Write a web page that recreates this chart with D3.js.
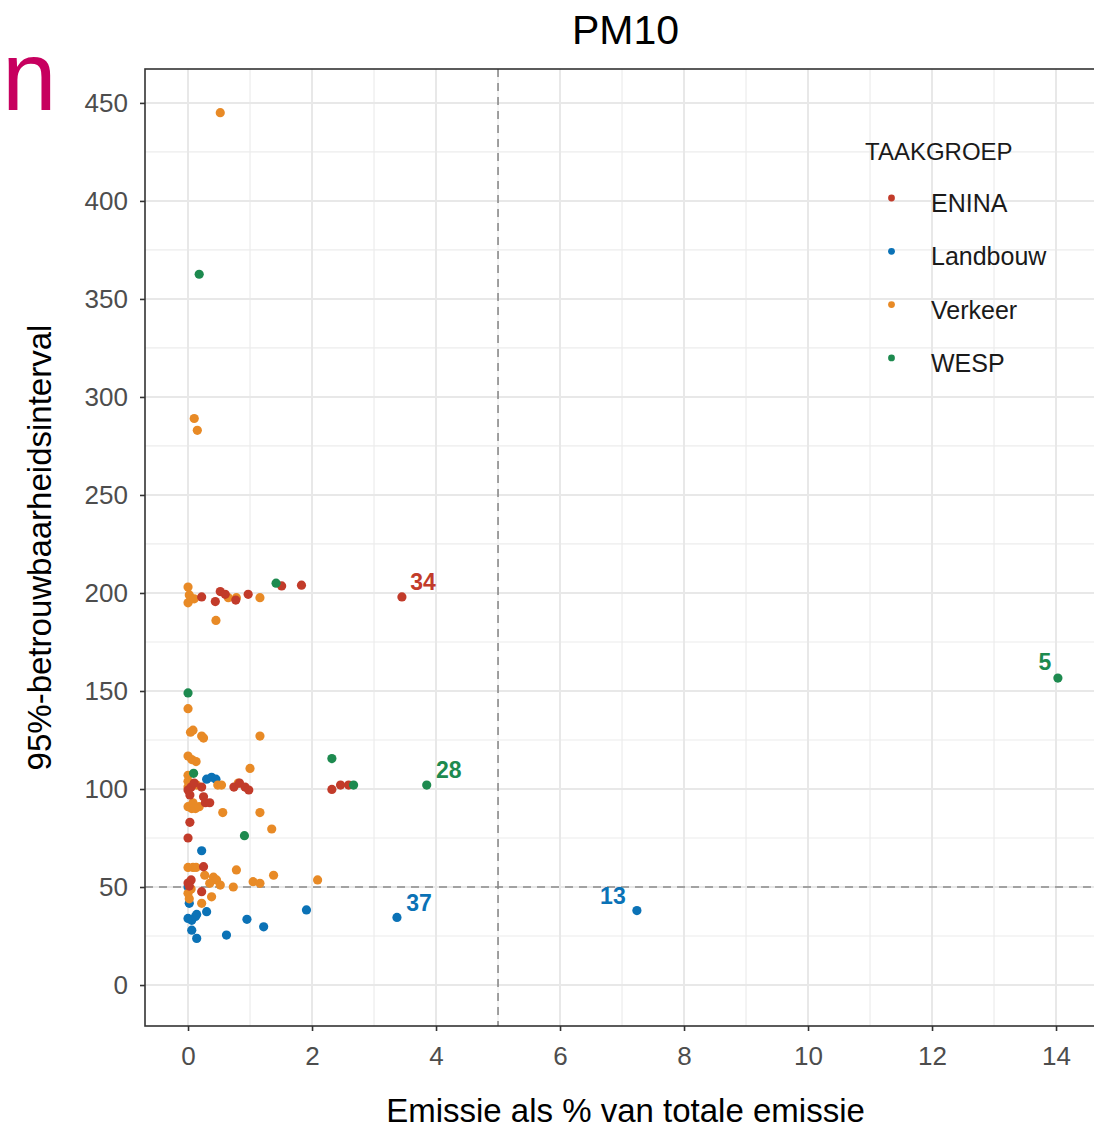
<!DOCTYPE html>
<html>
<head>
<meta charset="utf-8">
<script src="https://cdn.jsdelivr.net/npm/d3@7"></script>
<style>
  html, body { margin: 0; padding: 0; background: #fff; }
  svg { display: block; font-family: 'Liberation Sans', Arial, sans-serif; }
</style>
</head>
<body>
<div id="chart"></div>
<script>
// PM10 scatter: emission share vs 95% confidence interval

const groups = ['ENINA', 'Landbouw', 'Verkeer', 'WESP'];
const groupColors = ['#c23b2a', '#0b72b6', '#e88a26', '#1d8a4f'];

const eninaX = [0.22, 0.44, 0.52, 0.6, 0.77, 0.97, 1.51, 1.83, 3.45, 0, 0.05, 0.1, 0.03, 0.25, 0.28, 0.22, 0.35, 0.74, 0.83, 0.92, 0.98, 2.32, 2.46, 2.59, 0.03, 0, 0.25, 0, 0.05, 0.02, 0.22];
const eninaY = [198, 195.6, 200.7, 199.3, 196.4, 199.3, 203.6, 204, 198, 99.5, 101, 103, 97, 96, 93, 101, 93, 101, 103, 101, 99.5, 99.8, 102, 102, 83, 75, 60.4, 52, 53.6, 50.5, 47.6];

const landbouwX = [0.3, 0.38, 0.45, 0.22, 0, 0.02, 0, 0.06, 0.12, 0.14, 0.3, 0.06, 0.14, 0.62, 0.95, 1.22, 1.91, 3.37, 7.24];
const landbouwY = [105, 106, 105, 68.5, 50, 41.7, 34, 33, 35, 36, 37.4, 28, 23.8, 25.5, 33.5, 29.7, 38.3, 34.5, 38];

const verkeerX = [0.52, 0.1, 0.15, 0, 0.02, 0, 0.06, 0.1, 0.65, 0.78, 1.16, 0.45, 0, 0.04, 0.08, 0.22, 0.25, 1.16, 0, 0.06, 0.13, 1.0, 0, 0, 0, 0.14, 0.48, 0.54, 0.81, 0, 0.06, 0.12, 0.18, 0.08, 0.56, 1.16, 1.35, 0, 0.08, 0.13, 0.27, 0.78, 0.41, 0.46, 0.35, 0.73, 0.52, 1.05, 1.16, 1.38, 2.09, 0, 0.05, 0.22, 0.38, 0.02];
const verkeerY = [445, 289, 283, 203, 199, 195, 197, 197, 197.6, 197.6, 197.6, 186, 141, 129, 130, 127, 126, 127, 116.8, 115, 114, 110.5, 107, 104, 101, 102, 102, 102, 103, 91, 90, 90, 91, 93, 88, 88, 79.6, 60, 60, 60, 56, 58.7, 55, 53.6, 51.9, 50, 51, 52.7, 51.9, 56, 53.6, 46.8, 49, 41.7, 45, 44];

const wespX = [0.18, 1.42, 0, 2.32, 0.09, 2.67, 3.85, 0.91, 14.03];
const wespY = [362.6, 205, 149, 115.5, 108, 102, 102, 76.2, 156.6];

const labelIds = ['34', '28', '37', '13', '5'];
const labelGroups = ['ENINA', 'WESP', 'Landbouw', 'Landbouw', 'WESP'];
const labelX = [3.45, 3.85, 3.37, 7.24, 14.03];
const labelY = [198, 102, 34.5, 38, 156.6];

const xTicks = [0, 2, 4, 6, 8, 10, 12, 14];
const yTicks = [0, 50, 100, 150, 200, 250, 300, 350, 400, 450];
const xRef = 5;
const yRef = 50;

const W = 1094, H = 1129;
const panel = { left: 145, top: 69, right: 1106, bottom: 1026 };

const seriesX = [eninaX, landbouwX, verkeerX, wespX];
const seriesY = [eninaY, landbouwY, verkeerY, wespY];
const points = [];
[1, 2, 0, 3].forEach(gi => {
    seriesX[gi].forEach((v, i) => points.push({ group: groups[gi], x: v, y: seriesY[gi][i] }));
});

const color = d3.scaleOrdinal().domain(groups).range(groupColors);
const x = d3.scaleLinear().domain([-0.694, 14.806]).range([panel.left, panel.right]);
const y = d3.scaleLinear().domain([-20.9, 467.3]).range([panel.bottom, panel.top]);

const svg = d3.select('#chart').append('svg').attr('width', W).attr('height', H);

svg.append('text').attr('x', 2).attr('y', 110).style('font-size', '98px').style('fill', '#c7005f').text('n');

svg.append('clipPath').attr('id', 'clip').append('rect')
    .attr('x', panel.left).attr('y', panel.top).attr('width', panel.right - panel.left).attr('height', panel.bottom - panel.top);

const plot = svg.append('g').attr('clip-path', 'url(#clip)');

// grid
const xMinor = d3.range(1, 15, 2);
const yMinor = d3.range(25, 467, 50);
plot.selectAll('line.xminor').data(xMinor).enter().append('line')
    .attr('x1', d => x(d)).attr('x2', d => x(d)).attr('y1', panel.top).attr('y2', panel.bottom)
    .attr('stroke', '#ececec').attr('stroke-width', 1.2);
plot.selectAll('line.yminor').data(yMinor).enter().append('line')
    .attr('y1', d => y(d)).attr('y2', d => y(d)).attr('x1', panel.left).attr('x2', panel.right)
    .attr('stroke', '#ececec').attr('stroke-width', 1.2);
plot.selectAll('line.xmajor').data(xTicks).enter().append('line')
    .attr('x1', d => x(d)).attr('x2', d => x(d)).attr('y1', panel.top).attr('y2', panel.bottom)
    .attr('stroke', '#e8e8e8').attr('stroke-width', 2);
plot.selectAll('line.ymajor').data(yTicks).enter().append('line')
    .attr('y1', d => y(d)).attr('y2', d => y(d)).attr('x1', panel.left).attr('x2', panel.right)
    .attr('stroke', '#e8e8e8').attr('stroke-width', 2);

// reference lines
plot.append('line').attr('x1', x(xRef)).attr('x2', x(xRef)).attr('y1', panel.top).attr('y2', panel.bottom)
    .attr('stroke', '#8a8a8a').attr('stroke-width', 1.6).attr('stroke-dasharray', '8,6');
plot.append('line').attr('y1', y(yRef)).attr('y2', y(yRef)).attr('x1', panel.left).attr('x2', panel.right)
    .attr('stroke', '#8a8a8a').attr('stroke-width', 1.6).attr('stroke-dasharray', '8,6');

// points
plot.selectAll('circle.pt').data(points).enter().append('circle')
    .attr('class', 'pt')
    .attr('cx', d => x(d.x)).attr('cy', d => y(d.y)).attr('r', 4.6)
    .attr('fill', d => color(d.group));

// point labels
const nudge = { '34': [21, -15], '28': [22, -15], '37': [22, -15], '13': [-24, -15], '5': [-13, -16] };
plot.selectAll('text.lbl').data(labelIds).enter().append('text')
    .attr('x', (d, i) => x(labelX[i]) + nudge[d][0])
    .attr('y', (d, i) => y(labelY[i]) + nudge[d][1])
    .attr('text-anchor', 'middle').attr('dy', '0.36em')
    .style('font-size', '23px').style('font-weight', 'bold')
    .style('fill', (d, i) => color(labelGroups[i]))
    .text(d => d);

// legend
const legend = svg.append('g');
legend.append('text').attr('x', 865).attr('y', 160).style('font-size', '24px').style('fill', '#1a1a1a').text('TAAKGROEP');
const items = legend.selectAll('g.item').data(groups).enter().append('g')
    .attr('transform', (d, i) => `translate(0, ${212 + i * 53.3})`);
items.append('circle').attr('cx', 891.5).attr('cy', -14).attr('r', 3.4).attr('fill', d => color(d));
items.append('text').attr('x', 931).attr('y', 0).style('font-size', '25px').style('fill', '#1a1a1a').text(d => d);

// panel border
svg.append('rect').attr('x', panel.left).attr('y', panel.top)
    .attr('width', panel.right - panel.left).attr('height', panel.bottom - panel.top)
    .attr('fill', 'none').attr('stroke', '#333').attr('stroke-width', 1.6);

// axes
const xAxis = d3.axisBottom(x).tickValues(xTicks).tickSize(5).tickPadding(16);
const xg = svg.append('g').attr('transform', `translate(0, ${panel.bottom})`).call(xAxis);
xg.select('.domain').remove();
xg.selectAll('.tick line').attr('stroke', '#333').attr('stroke-width', 1.6);
xg.selectAll('.tick text').style('font-size', '26px').style('fill', '#4d4d4d').style('font-family', "'Liberation Sans', Arial, sans-serif");

const yAxis = d3.axisLeft(y).tickValues(yTicks).tickSize(5).tickPadding(12);
const yg = svg.append('g').attr('transform', `translate(${panel.left}, 0)`).call(yAxis);
yg.select('.domain').remove();
yg.selectAll('.tick line').attr('stroke', '#333').attr('stroke-width', 1.6);
yg.selectAll('.tick text').style('font-size', '26px').style('fill', '#4d4d4d').style('font-family', "'Liberation Sans', Arial, sans-serif");

// titles
svg.append('text').attr('x', (panel.left + panel.right) / 2).attr('y', 44).attr('text-anchor', 'middle')
    .style('font-size', '41px').style('fill', '#000').text('PM10');
svg.append('text').attr('x', (panel.left + panel.right) / 2).attr('y', 1122).attr('text-anchor', 'middle')
    .style('font-size', '33px').style('fill', '#000').text('Emissie als % van totale emissie');
svg.append('text').attr('transform', `translate(51, ${(panel.top + panel.bottom) / 2}) rotate(-90)`)
    .attr('text-anchor', 'middle').style('font-size', '33px').style('fill', '#000').text('95%-betrouwbaarheidsinterval');
</script>
</body>
</html>
